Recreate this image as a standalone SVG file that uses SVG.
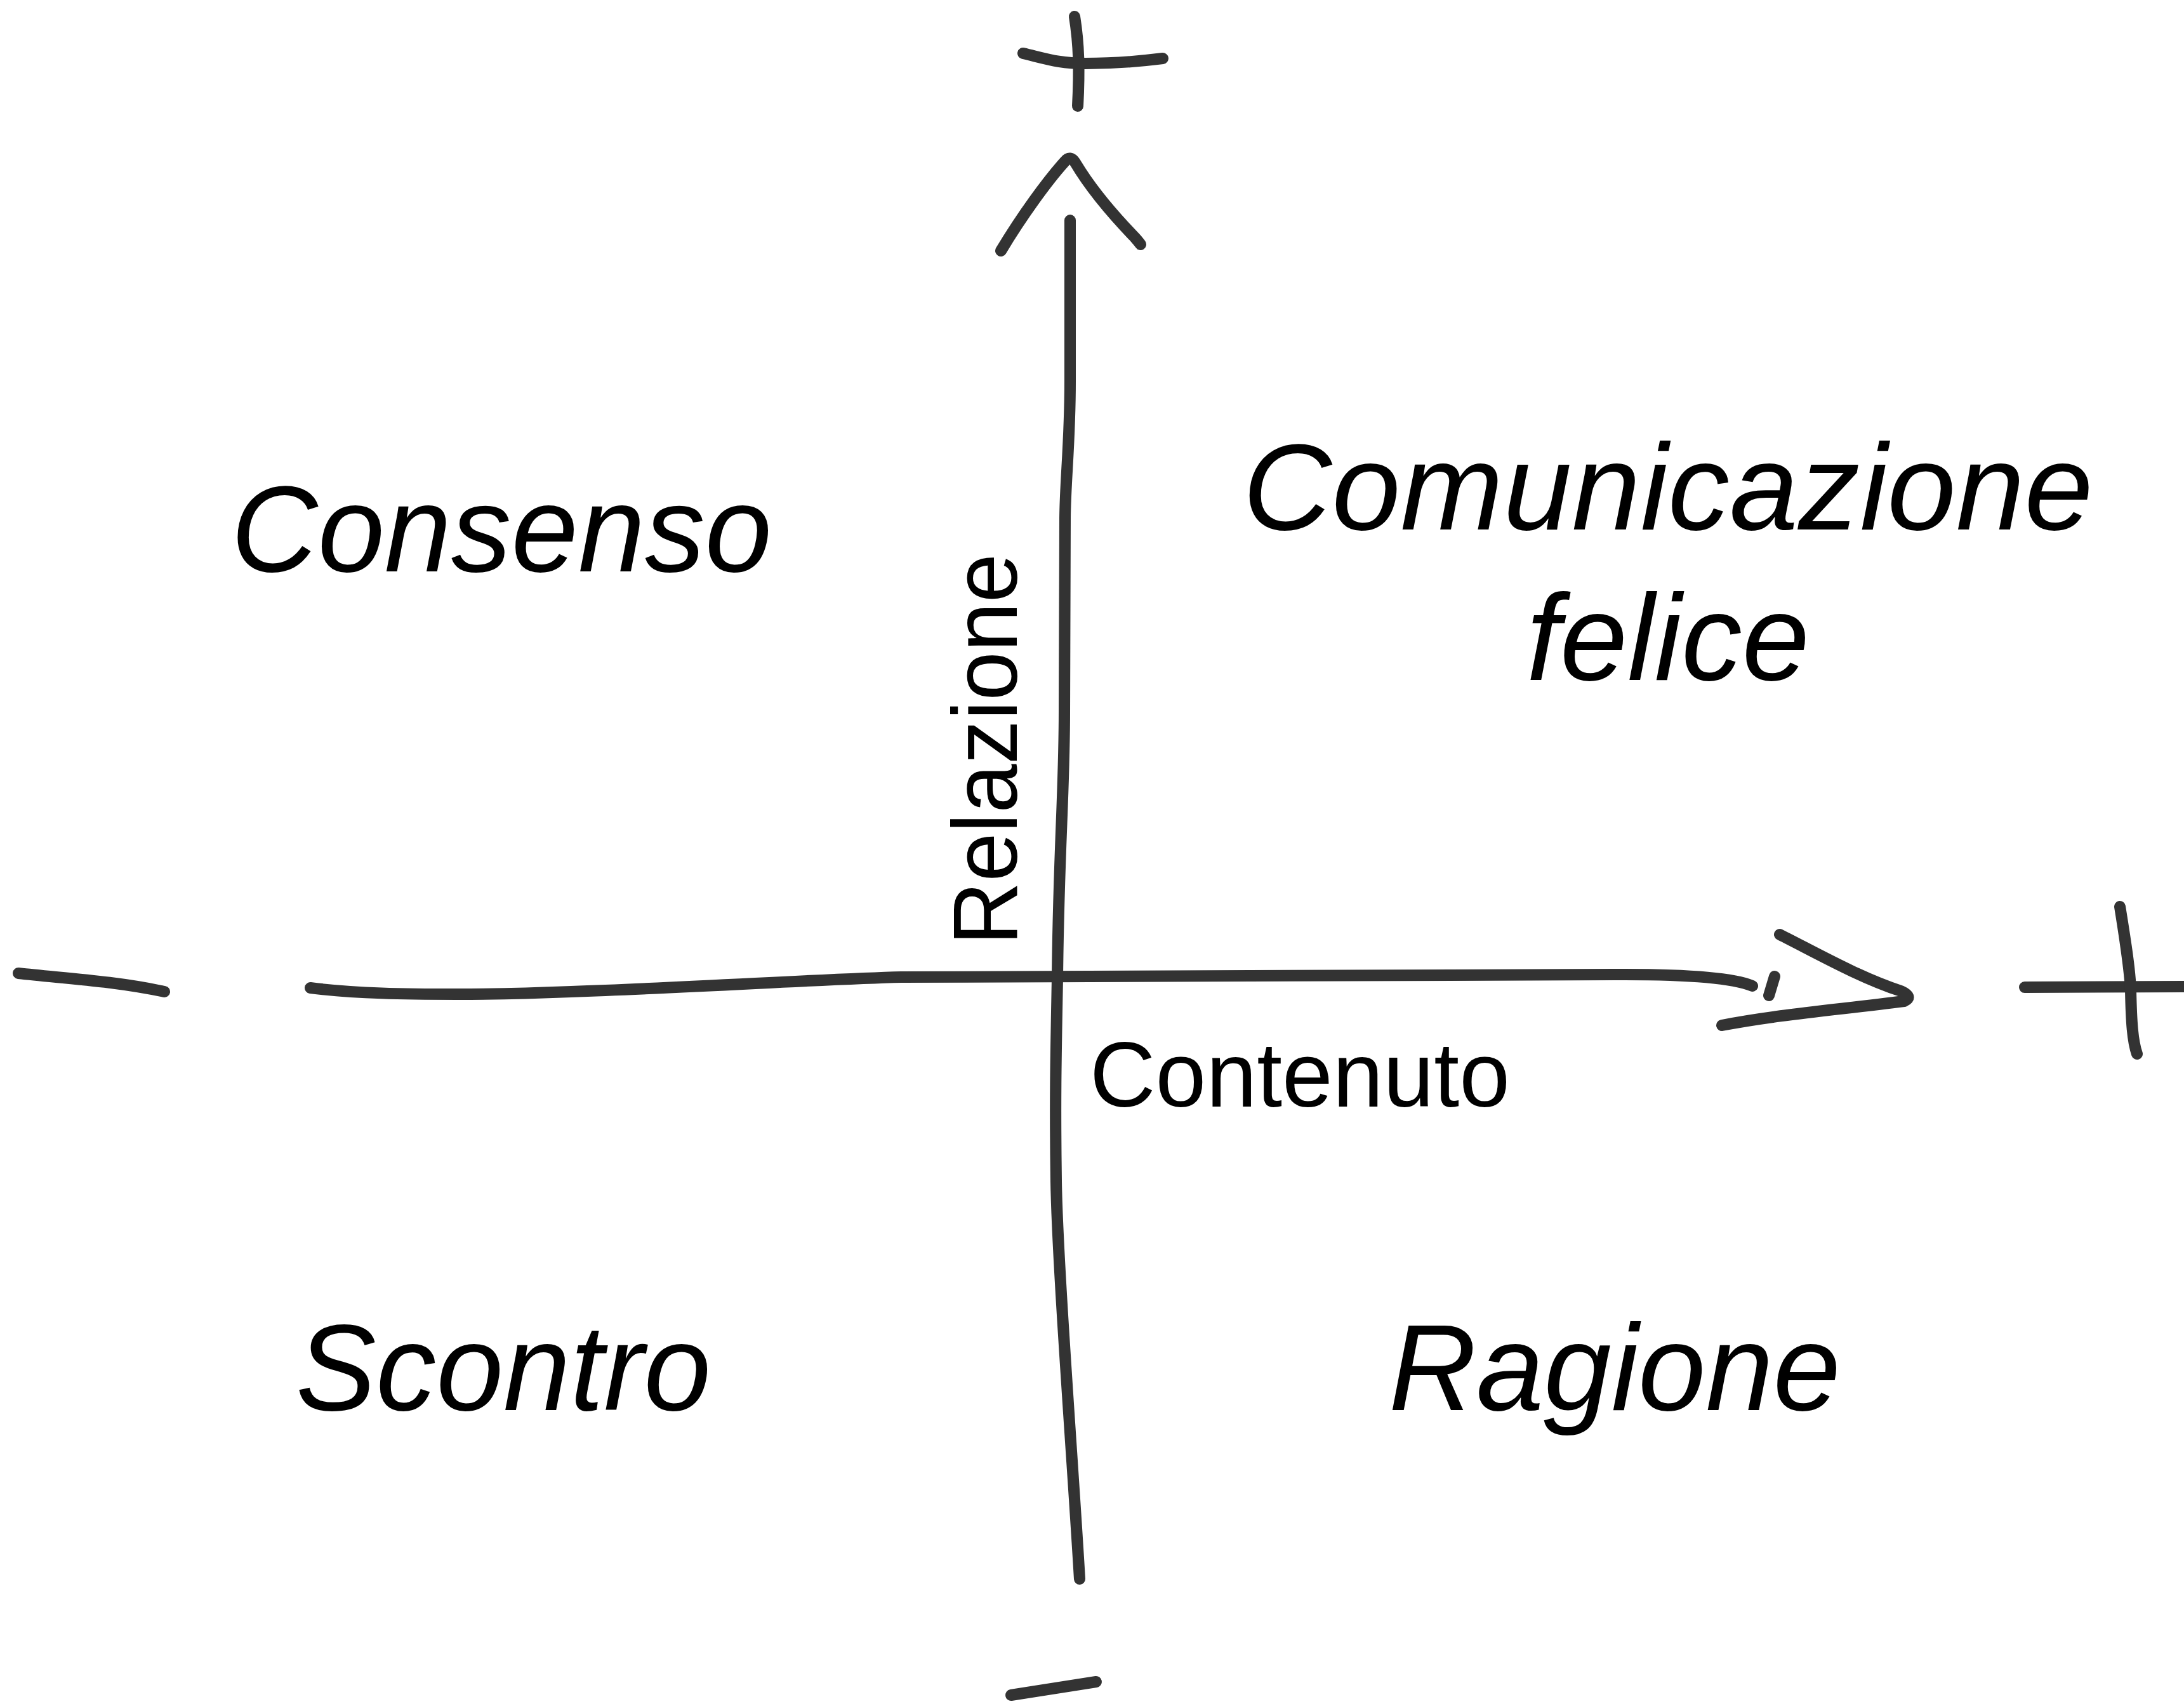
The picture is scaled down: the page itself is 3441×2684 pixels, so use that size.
<svg xmlns="http://www.w3.org/2000/svg" width="3441" height="2684" viewBox="0 0 3441 2684">
<style>
.s{fill:none;stroke:#333333;stroke-width:18;stroke-linecap:round;stroke-linejoin:round}
.q{font-family:"Liberation Sans",Arial,sans-serif;font-style:italic;font-size:193px;fill:#000}
.a{font-family:"Liberation Sans",Arial,sans-serif;font-size:145px;fill:#000}
</style>
<rect width="3441" height="2684" fill="#ffffff"/>
<g id="connectors">
<path class="s" d="M489,1556 C560,1565 640,1566 720,1566 C800,1566 850,1564 900,1562 C1100,1555 1300,1542 1420,1539 L2560,1535 C2660,1535 2730,1540 2761,1553"/>
<path class="s" d="M2787,1568 L2796,1538"/>
<path class="s" d="M2804,1472 C2860,1500 2930,1540 2995,1561 Q3015,1570 3000,1577 C2900,1590 2800,1598 2713,1615"/>
<path class="s" d="M1686,347 L1686,600 C1686,700 1678,760 1678,820 L1677,1120 C1677,1250 1668,1340 1666,1540 C1664,1650 1662,1720 1664,1860 C1666,1990 1690,2300 1701,2487"/>
<path class="s" d="M1577,395 C1610,340 1650,285 1678,254 Q1686,244 1694,256 C1720,300 1760,345 1788,374 Q1795,382 1797,385"/>
</g>
<g id="plus-top">
<path class="s" d="M1693,26 C1700,70 1701,110 1698,167"/>
<path class="s" d="M1612,84 C1650,93 1670,100 1710,100 C1760,100 1800,96 1832,92"/>
</g>
<g id="minus-left">
<path class="s" d="M29,1533 C100,1541 180,1545 259,1562"/>
</g>
<g id="plus-right">
<path class="s" d="M3190,1555 L3441,1554"/>
<path class="s" d="M3340,1428 C3350,1490 3356,1530 3357,1560 C3358,1610 3360,1640 3367,1660"/>
</g>
<g id="minus-bottom">
<path class="s" d="M1593,2670 L1727,2649"/>
</g>
<g id="label-relazione">
<text class="a" transform="translate(1602,1489) rotate(-90)" textLength="617" lengthAdjust="spacingAndGlyphs">Relazione</text>
</g>
<g id="label-contenuto">
<text class="a" x="1717" y="1743" textLength="662" lengthAdjust="spacingAndGlyphs">Contenuto</text>
</g>
<g id="consenso"><text class="q" x="364" y="900" textLength="852" lengthAdjust="spacingAndGlyphs">Consenso</text></g>
<g id="comunicazione-felice">
<text class="q" x="2628" y="834" text-anchor="middle" textLength="1340" lengthAdjust="spacingAndGlyphs">Comunicazione</text>
<text class="q" x="2628" y="1071" text-anchor="middle" textLength="446" lengthAdjust="spacingAndGlyphs">felice</text>
</g>
<g id="scontro"><text class="q" x="466" y="2221" textLength="654" lengthAdjust="spacingAndGlyphs">Scontro</text></g>
<g id="ragione"><text class="q" x="2188" y="2221" textLength="712" lengthAdjust="spacingAndGlyphs">Ragione</text></g>
</svg>
